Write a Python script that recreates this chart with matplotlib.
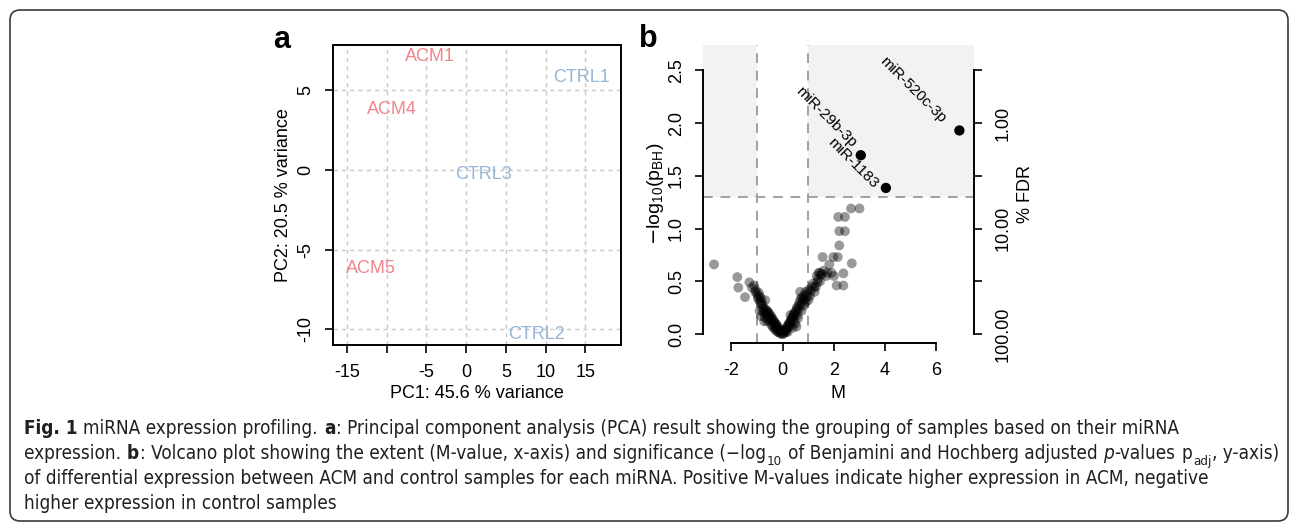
import matplotlib
matplotlib.use("Agg")
import matplotlib.pyplot as plt
from matplotlib import font_manager
from matplotlib.font_manager import FontProperties
from matplotlib.patches import FancyBboxPatch, Rectangle
import numpy as np

W, H = 1290, 525

# PCA scores (panel a)
pca_labels = ["ACM1", "CTRL1", "ACM4", "CTRL3", "ACM5", "CTRL2"]
pca_pc1 = [-4.5, 14.5, -9.3, 2.2, -12.0, 8.8]
pca_pc2 = [7.1, 5.8, 3.8, -0.3, -6.2, -10.3]
pca_group = ["ACM", "CTRL", "ACM", "CTRL", "ACM", "CTRL"]
group_colors = {"ACM": "#f0848c", "CTRL": "#93b6d8"}
pc1_ticks = [-15, -10, -5, 0, 5, 10, 15]
pc1_ticklabels = ["-15", "", "-5", "0", "5", "10", "15"]
pc2_ticks = [-10, -5, 0, 5]

# volcano plot, non significant miRNAs (panel b)
m_values = [
    -0.05, -0.08, -0.12, -0.15, -0.18, -0.22, -0.25, -0.28, -0.31, -0.35,
    -0.38, -0.42, -0.45, -0.48, -0.52, -0.55, -0.58, -0.62, -0.66, -0.70,
    -0.73, -0.76, -0.78, -0.82, -0.85, -0.90, -0.95, -1.00, -1.05, -1.12,
    -1.20, -1.30, -1.47, -1.73, -1.77, -2.68, -0.68, -0.60, -0.40, -0.30,
    -0.20, -0.10, -0.85, -0.90, -0.72, -0.02, -0.14, -0.26, -0.36, -0.47,
    -0.57, -0.64, -0.80, -0.88, -0.93, -0.97, -1.08, -0.16, -0.33, -0.44,
    -0.54, -0.70, -0.80, -0.62, -0.24,
    0.05, 0.08, 0.12, 0.15, 0.18, 0.22, 0.25, 0.28, 0.32, 0.35,
    0.38, 0.42, 0.45, 0.48, 0.52, 0.55, 0.58, 0.62, 0.65, 0.70,
    0.72, 0.75, 0.80, 0.85, 0.90, 0.95, 1.02, 1.10, 1.15, 1.25,
    1.33, 1.40, 1.46, 1.50, 1.56, 1.60, 1.75, 1.82, 1.91, 1.98,
    2.00, 2.11, 2.15, 2.17, 2.21, 2.21, 2.37, 2.37, 2.43, 2.43,
    2.70, 2.67, 3.00, 0.30, 0.60, 0.50, 0.40, 0.20, 0.68, 0.90,
    1.20, 1.00, 1.30, 1.45, 0.54, 0.02, 0.10, 0.17, 0.27, 0.37,
    0.46, 0.63, 0.78, 0.86, 0.98, 1.38, 1.52, 1.70, 0.14, 0.33,
    0.44, 0.58, 0.74, 0.83, 1.07, 1.23, 1.36,
]
logp_values = [
    0.01, 0.03, 0.04, 0.06, 0.05, 0.08, 0.09, 0.10, 0.11, 0.12,
    0.14, 0.15, 0.17, 0.16, 0.19, 0.20, 0.21, 0.22, 0.19, 0.20,
    0.24, 0.21, 0.27, 0.31, 0.34, 0.36, 0.33, 0.38, 0.42, 0.46,
    0.44, 0.49, 0.35, 0.44, 0.54, 0.66, 0.32, 0.12, 0.07, 0.04,
    0.02, 0.005, 0.17, 0.22, 0.12, 0.0, 0.03, 0.07, 0.10, 0.13,
    0.17, 0.23, 0.28, 0.30, 0.39, 0.35, 0.40, 0.02, 0.06, 0.09,
    0.13, 0.16, 0.24, 0.15, 0.04,
    0.01, 0.03, 0.05, 0.04, 0.07, 0.09, 0.10, 0.08, 0.13, 0.14,
    0.16, 0.18, 0.20, 0.17, 0.22, 0.25, 0.24, 0.27, 0.30, 0.33,
    0.28, 0.35, 0.34, 0.37, 0.40, 0.38, 0.42, 0.41, 0.45, 0.40,
    0.55, 0.58, 0.50, 0.56, 0.73, 0.60, 0.58, 0.66, 0.58, 0.73,
    0.55, 0.46, 0.73, 1.11, 0.84, 0.975, 0.575, 0.46, 1.11, 0.975,
    0.67, 1.19, 1.19, 0.18, 0.15, 0.10, 0.06, 0.02, 0.40, 0.30,
    0.48, 0.32, 0.45, 0.58, 0.07, 0.0, 0.03, 0.06, 0.11, 0.15,
    0.19, 0.23, 0.31, 0.33, 0.36, 0.52, 0.57, 0.55, 0.02, 0.08,
    0.12, 0.18, 0.22, 0.27, 0.36, 0.44, 0.49,
]

# significant miRNAs
sig_names = ["miR-520c-3p", "miR-29b-3p", "miR-1183"]
sig_m = [6.9, 3.05, 4.03]
sig_logp = [1.93, 1.695, 1.385]

m_cut = 1.0
fdr_cut = 0.05
b_yticks = [0.0, 0.5, 1.0, 1.5, 2.0, 2.5]
b_xticks = [-2, 0, 2, 4, 6]

# caption, as (text, style) pieces; "_" marks a word space between pieces
caption_lines = [
    [("Fig. 1", "b"), "_", ("miRNA expression profiling.", "n"), "_", ("a", "b"),
     (": Principal component analysis (PCA) result showing the grouping of samples based on their miRNA", "n")],
    [("expression.", "n"), "_", ("b", "b"),
     (": Volcano plot showing the extent (M-value, x-axis) and significance (\u2212log", "n"), ("10", "sub"), "_",
     ("of Benjamini and Hochberg adjusted", "n"), "_", ("p", "i"), ("-values", "n"), "_", ("p", "n"), ("adj", "sub"),
     (", y-axis)", "n")],
    [("of differential expression between ACM and control samples for each miRNA. Positive M-values indicate higher expression in ACM, negative", "n")],
    [("higher expression in control samples", "n")],
]


def pick_font(names):
    for n in names:
        try:
            font_manager.findfont(n, fallback_to_default=False)
            return n
        except Exception:
            pass
    return "DejaVu Sans"


def pick_condensed(names):
    for n in names:
        try:
            f = font_manager.findfont(FontProperties(family=n, stretch="condensed"), fallback_to_default=False)
        except Exception:
            continue
        if "ondensed" in f or "arrow" in f:
            return n, "condensed"
    return pick_font(["Roboto", "Open Sans", "Noto Sans"]), "normal"


chart_font = pick_font(["Liberation Sans", "Arial", "DejaVu Sans"])
cap_family, cap_stretch = pick_condensed(["Liberation Sans Narrow", "DejaVu Sans", "Noto Sans", "Open Sans", "Roboto"])

plt.rcParams["font.family"] = chart_font
plt.rcParams["axes.unicode_minus"] = False


def px(x, y):
    return x / W, 1 - y / H


fig = plt.figure(figsize=(W / 100, H / 100), dpi=100)

# ---- panel a
x0, y0 = px(332.7, 345)
x1, y1 = px(621, 45)
ax1 = fig.add_axes([x0, y0, x1 - x0, y1 - y0])
ax1.set_xlim(-16.8, 19.5)
ax1.set_ylim(-10.98, 7.84)
ax1.set_xticks(pc1_ticks)
ax1.set_xticklabels(pc1_ticklabels)
ax1.set_yticks(pc2_ticks)
ax1.set_yticklabels([str(t) for t in pc2_ticks], rotation=90, va="center")
ax1.grid(True, color="#c8c8c8", linestyle=(0, (3, 3)), linewidth=1.0)
ax1.set_axisbelow(True)
for s in ax1.spines.values():
    s.set_linewidth(1.4)
ax1.tick_params(labelsize=13, length=6, width=1.2, pad=8)
ax1.tick_params(axis="y", pad=7)
for lab, xv, yv, g in zip(pca_labels, pca_pc1, pca_pc2, pca_group):
    ax1.text(xv, yv, lab, color=group_colors[g], fontsize=13, ha="center", va="center")

fig.text(*px(476.8, 393), "PC1: 45.6 % variance", fontsize=13, ha="center", va="center")
fig.text(*px(283, 195), "PC2: 20.5 % variance", fontsize=13, ha="center", va="center", rotation=90)
fig.text(*px(282, 48.5), "a", fontsize=22, fontweight="bold", ha="center", va="baseline")

# ---- panel b
x0, y0 = px(703, 343)
x1, y1 = px(974, 45)
ax2 = fig.add_axes([x0, y0, x1 - x0, y1 - y0])
xmin, xmax = -3.11, 7.47
ymin, ymax = -0.085, 2.74
ax2.set_xlim(xmin, xmax)
ax2.set_ylim(ymin, ymax)
p_cut = -np.log10(fdr_cut)

ax2.add_patch(Rectangle((xmin, p_cut), -m_cut - xmin, ymax - p_cut, color="#f2f2f2", lw=0, zorder=0))
ax2.add_patch(Rectangle((m_cut, p_cut), xmax - m_cut, ymax - p_cut, color="#f2f2f2", lw=0, zorder=0))
dash_kw = dict(color="#a0a0a0", linestyle=(0, (5, 4)), linewidth=1.4, zorder=1)
ax2.axhline(p_cut, **dash_kw)
ax2.axvline(-m_cut, **dash_kw)
ax2.axvline(m_cut, **dash_kw)

ax2.scatter(m_values, logp_values, s=50, color="black", alpha=0.4, edgecolors="none", zorder=2)
ax2.scatter(sig_m, sig_logp, s=55, color="black", edgecolors="none", zorder=3)
label_offsets = [(-11.5, 7.2), (-4.5, 7.5), (-7.5, 1.5)]
for name, mv, lv, off in zip(sig_names, sig_m, sig_logp, label_offsets):
    ax2.annotate(name, (mv, lv), xytext=off, textcoords="offset points",
                 rotation=-45, rotation_mode="anchor", ha="right", va="center", fontsize=11)

for side in ["top", "right"]:
    ax2.spines[side].set_visible(False)
ax2.spines["left"].set_bounds(0, 2.5)
ax2.spines["bottom"].set_bounds(-2, 6)
ax2.spines["left"].set_linewidth(1.4)
ax2.spines["bottom"].set_linewidth(1.4)
ax2.set_xticks(b_xticks)
ax2.set_yticks(b_yticks)
ax2.set_yticklabels(["%.1f" % t for t in b_yticks], rotation=90, va="center")
ax2.tick_params(labelsize=13, length=6, width=1.2, pad=8)
ax2.tick_params(axis="y", pad=7)

ax3 = ax2.twinx()
ax3.set_ylim(ymin, ymax)
for side in ["top", "left", "bottom"]:
    ax3.spines[side].set_visible(False)
ax3.spines["right"].set_bounds(0, 2.5)
ax3.spines["right"].set_linewidth(1.4)
ax3.set_yticks(b_yticks)
fdr_labels = ["%.2f" % (100 * 10 ** (-t)) if float(t).is_integer() else "" for t in b_yticks]
ax3.set_yticklabels(fdr_labels, rotation=90, va="center")
ax3.tick_params(labelsize=13, length=6, width=1.2, pad=9)

fig.text(*px(838.5, 393), "M", fontsize=13, ha="center", va="center")
fig.text(*px(655, 194), r"$-\mathregular{log_{10}(p_{BH})}$", fontsize=14, ha="center", va="center", rotation=90)
fig.text(*px(1025, 194), "% FDR", fontsize=13, ha="center", va="center", rotation=90)
fig.text(*px(648, 46.7), "b", fontsize=22, fontweight="bold", ha="center", va="baseline")

# ---- caption, laid out piece by piece
fig.canvas.draw()
r = fig.canvas.get_renderer()
cap_color = "#231f20"


def cap_props(style, fs):
    size = fs * 0.7 if style == "sub" else fs
    return FontProperties(family=cap_family, stretch=cap_stretch, size=size,
                          weight="bold" if style == "b" else "normal",
                          style="italic" if style == "i" else "normal")


def piece_w(txt, style, fs):
    w, _, _ = r.get_text_width_height_descent(txt, cap_props(style, fs), ismath=False)
    return w


def space_w(fs):
    return piece_w("a a", "n", fs) - piece_w("aa", "n", fs)


def line_w(pieces, fs):
    tot = 0
    for p in pieces:
        tot += space_w(fs) if p == "_" else piece_w(p[0], p[1], fs) + 0.6
    return tot


fs = 12.0
fs = fs * 1259 / line_w(caption_lines[1], fs)

cap_x = 24
cap_base = [434, 459, 484, 509]
for pieces, yb in zip(caption_lines, cap_base):
    x = cap_x
    for p in pieces:
        if p == "_":
            x += space_w(fs)
            continue
        txt, style = p
        dy = fs * 0.3 * 1.389 if style == "sub" else 0
        fig.text(*px(x, yb + dy), txt, fontproperties=cap_props(style, fs), color=cap_color,
                 ha="left", va="baseline")
        x += piece_w(txt, style, fs) + 0.6

# ---- frame
frame = FancyBboxPatch((0.10, 0.04), 12.78, 5.11, boxstyle="round,pad=0,rounding_size=0.1",
                       transform=fig.dpi_scale_trans, fill=False, edgecolor="#3a3a3a", linewidth=1.2)
fig.patches.append(frame)

fig.savefig("out.png", dpi=100)
